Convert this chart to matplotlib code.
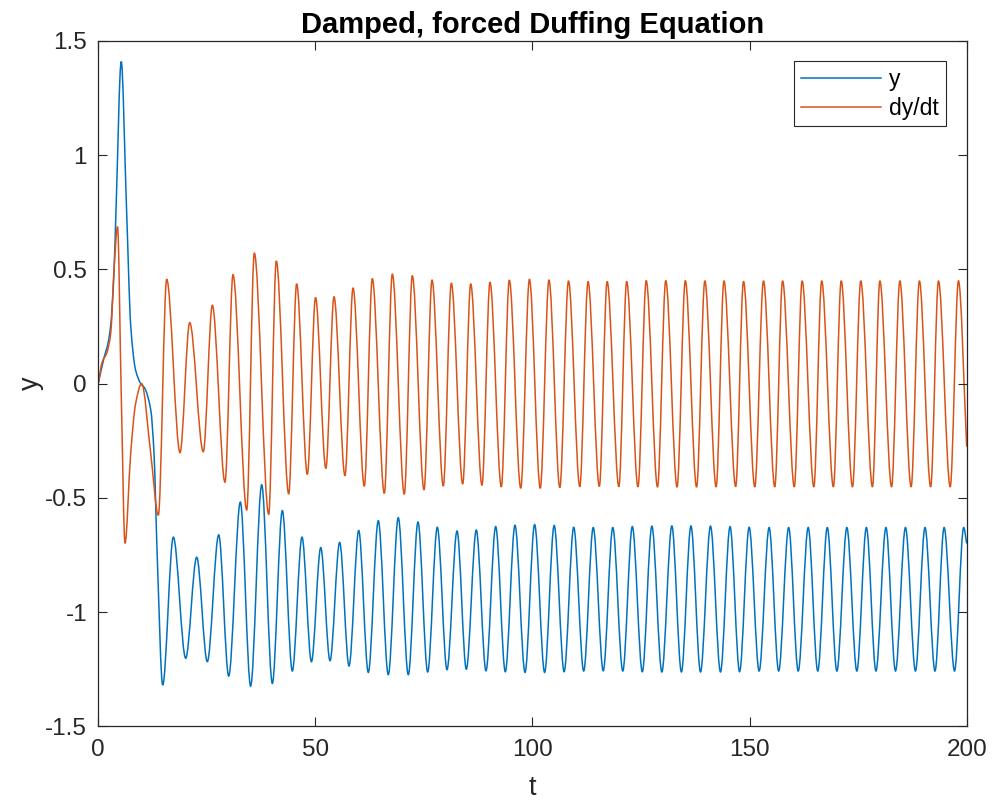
import numpy as np
import matplotlib
matplotlib.use('Agg')
from matplotlib import pyplot as plt
from matplotlib.path import Path
from matplotlib.patches import PathPatch
from matplotlib.lines import Line2D
from matplotlib.ticker import FormatStrFormatter

# values (turning points and a few shape points)
y_t = [0, 1.3, 2.3, 2.9, 3.6, 4.1, 5.3, 6.5, 7.5, 8.6, 9.8, 10.7, 12.1, 12.85, 13.6, 14.85,
       17.3, 20.15, 22.68, 25.12, 27.75, 30.05, 32.73, 35.1, 37.65, 40.1, 42.4, 44.7, 46.93, 49.1,
       51.25, 53.38, 55.6, 57.76, 59.99, 62.2, 64.5, 66.8, 69.1, 71.41, 73.64, 75.87, 78.09, 80.32,
       82.63, 84.77, 87.07, 89.3, 91.53, 93.75, 95.98, 98.29, 100.5, 102.8, 105.0, 107.3, 109.5,
       111.8, 114.0, 116.3, 118.5, 120.8, 123.0, 125.3, 127.5, 129.8, 132.1, 134.3, 136.5, 138.7,
       141.0, 143.3, 145.5, 147.7, 149.9, 152.2, 154.5, 156.7, 159.0, 161.2, 163.5, 165.7, 167.9,
       170.1, 172.4, 174.7, 176.9, 179.1, 181.4, 183.6, 185.9, 188.2, 190.4, 192.7, 194.8, 197.2,
       199.3, 200.0]
y_val = [0, 0.11, 0.18, 0.26, 0.47, 0.76, 1.41, 0.78, 0.25, 0.06, 0.0, -0.02, -0.115, -0.305, -0.76, -1.319,
         -0.672, -1.202, -0.760, -1.217, -0.662, -1.280, -0.519, -1.324, -0.443, -1.312, -0.556, -1.258,
         -0.672, -1.217, -0.718, -1.213, -0.695, -1.236, -0.643, -1.264, -0.600, -1.274, -0.587, -1.274,
         -0.606, -1.262, -0.629, -1.252, -0.645, -1.250, -0.641, -1.257, -0.626, -1.261, -0.620, -1.264,
         -0.617, -1.264, -0.621, -1.261, -0.629, -1.258, -0.630, -1.257, -0.630, -1.258, -0.626, -1.261,
         -0.624, -1.262, -0.623, -1.262, -0.623, -1.262, -0.624, -1.262, -0.626, -1.261, -0.629, -1.258,
         -0.630, -1.258, -0.630, -1.258, -0.630, -1.258, -0.630, -1.258, -0.630, -1.258, -0.630, -1.258,
         -0.630, -1.258, -0.630, -1.258, -0.630, -1.258, -0.630, -1.258, -0.630, -0.700]

dy_t = [0, 0.94, 1.95, 2.88, 3.64, 4.45, 5.32, 6.17, 7.48, 8.63, 10.0, 12.09, 13.85, 15.77, 18.84,
        21.07, 24.2, 26.28, 29.2, 31.04, 34.2, 35.95, 39.26, 41.01, 43.87, 45.7, 48.16, 50.05, 52.42,
        54.3, 56.83, 58.68, 61.28, 63.12, 65.89, 67.73, 70.49, 72.33, 75.03, 76.87, 79.47, 81.32, 83.94,
        85.78, 88.38, 90.22, 92.83, 94.67, 97.3, 99.3, 101.8, 103.8, 106.3, 108.3, 110.9, 112.8, 115.4,
        117.2, 119.9, 121.7, 124.3, 126.2, 128.8, 130.7, 133.3, 135.2, 137.8, 139.7, 142.3, 144.1,
        146.8, 148.6, 151.2, 153.2, 155.8, 157.6, 160.3, 162.1, 164.8, 166.6, 169.3, 171.1, 173.7,
        175.6, 178.3, 180.0, 182.7, 184.6, 187.2, 189.1, 191.7, 193.5, 196.2, 198.1, 200.0]
dy_val = [0, 0.096, 0.133, 0.22, 0.50, 0.687, -0.06, -0.699, -0.305, -0.086, 0.0, -0.305, -0.575, 0.457,
          -0.302, 0.267, -0.298, 0.343, -0.432, 0.477, -0.553, 0.571, -0.572, 0.537, -0.483, 0.437,
          -0.397, 0.377, -0.371, 0.380, -0.403, 0.419, -0.449, 0.460, -0.480, 0.480, -0.484, 0.473,
          -0.465, 0.454, -0.448, 0.440, -0.439, 0.437, -0.445, 0.444, -0.452, 0.453, -0.458, 0.457,
          -0.458, 0.454, -0.455, 0.450, -0.451, 0.447, -0.450, 0.447, -0.451, 0.447, -0.452, 0.451,
          -0.453, 0.451, -0.453, 0.451, -0.453, 0.450, -0.452, 0.450, -0.451, 0.448, -0.452, 0.450,
          -0.452, 0.450, -0.452, 0.450, -0.452, 0.450, -0.452, 0.450, -0.452, 0.450, -0.452, 0.450,
          -0.452, 0.450, -0.452, 0.450, -0.452, 0.450, -0.452, 0.450, -0.276]

BLUE = '#0072BD'
ORANGE = '#D95319'
DARK = '#262626'

plt.rcParams['font.family'] = ['Liberation Sans', 'DejaVu Sans']
plt.rcParams['axes.unicode_minus'] = False


def smooth_path(ts, vs):
    # cubic bezier pieces through the read points, flat at turning points
    x = np.asarray(ts, float)
    y = np.asarray(vs, float)
    h = np.diff(x)
    d = np.diff(y) / h
    m = np.zeros_like(x)
    for k in range(1, len(x) - 1):
        if d[k - 1] * d[k] > 0:
            m[k] = 2 / (1 / d[k - 1] + 1 / d[k])
    m[0] = d[0]
    m[-1] = d[-1]
    verts = [(x[0], y[0])]
    codes = [Path.MOVETO]
    for k in range(len(h)):
        verts.append((x[k] + h[k] / 3, y[k] + m[k] * h[k] / 3))
        verts.append((x[k + 1] - h[k] / 3, y[k + 1] - m[k + 1] * h[k] / 3))
        verts.append((x[k + 1], y[k + 1]))
        codes += [Path.CURVE4] * 3
    return Path(verts, codes)


fig = plt.figure(figsize=(9.92, 8.02), dpi=100)
ax = fig.add_axes([0.099, 0.0944, 0.8755, 0.8545])

ax.add_patch(PathPatch(smooth_path(y_t, y_val), fill=False, edgecolor=BLUE, lw=1.1))
ax.add_patch(PathPatch(smooth_path(dy_t, dy_val), fill=False, edgecolor=ORANGE, lw=1.1))

ax.set_xlim(0, 200)
ax.set_ylim(-1.5, 1.5)
ax.set_xticks([0, 50, 100, 150, 200])
ax.set_yticks([-1.5, -1, -0.5, 0, 0.5, 1, 1.5])
ax.yaxis.set_major_formatter(FormatStrFormatter('%g'))
ax.tick_params(direction='in', length=6.7, width=0.8, color=DARK, labelcolor=DARK,
               labelsize=17.5, top=True, right=True)
ax.tick_params(axis='x', pad=9)
ax.tick_params(axis='y', pad=8)
for s in ax.spines.values():
    s.set_color(DARK)
    s.set_linewidth(0.9)

ax.set_title('Damped, forced Duffing Equation', fontsize=21, fontweight='bold', pad=6)
ax.set_xlabel('t', fontsize=19.5, color=DARK, labelpad=10)
ax.set_ylabel('y', fontsize=19.5, color=DARK, labelpad=1)

handles = [Line2D([], [], color=BLUE, lw=1.1), Line2D([], [], color=ORANGE, lw=1.1)]
leg = ax.legend(handles, ['y', 'dy/dt'], loc='upper right', bbox_to_anchor=(0.976, 0.9708),
                borderaxespad=0, fontsize=16.5, handlelength=3.5, handletextpad=0.35,
                fancybox=False, framealpha=1, edgecolor=DARK, borderpad=0.3, labelspacing=0.25)
leg.get_frame().set_linewidth(0.8)

plt.savefig('out.png', dpi=100)
